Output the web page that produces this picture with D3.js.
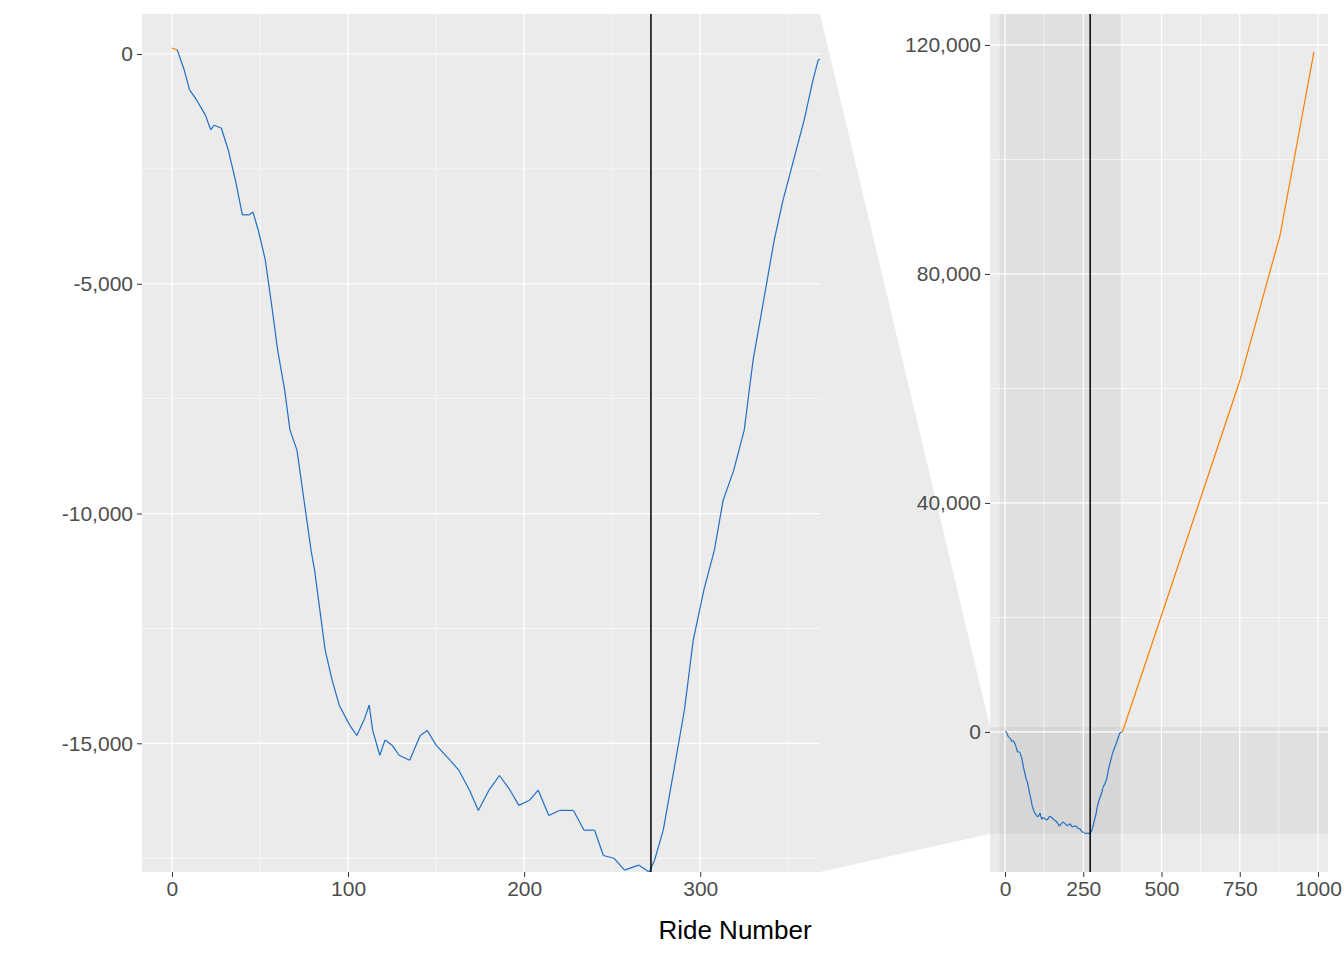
<!DOCTYPE html>
<html><head><meta charset="utf-8">
<script src="https://cdn.jsdelivr.net/npm/d3@7"></script>
<style>body{margin:0;background:#fff}text{font-family:"Liberation Sans",Arial,sans-serif}</style>
</head><body><div id="chart"></div>
<script>
// cumulative balance by ride
var rides = [0,3,6,7,10,14,19,22,24,28,32,36,40,44,46,49,53,57,60,64,67,71,75,79,81,84,87,91,95,101,105,109,112,114,118,121,125,129,135,141,145,150,158,163,169,174,180,186,192,197,203,208,214,220,228,234,240,245,251,257,265,271,274,279,285,291,296,302,308,313,319,325,330,336,342,347,353,359,364,367,375,495,623,751,879,987];
var balance = [130,90,-240,-350,-780,-1000,-1330,-1650,-1550,-1610,-2090,-2740,-3500,-3500,-3440,-3830,-4480,-5570,-6440,-7310,-8180,-8620,-9710,-10800,-11230,-12100,-12970,-13630,-14170,-14610,-14830,-14500,-14170,-14720,-15260,-14930,-15040,-15260,-15370,-14830,-14720,-15040,-15370,-15590,-16020,-16460,-16020,-15700,-16020,-16350,-16240,-16020,-16570,-16460,-16460,-16890,-16890,-17440,-17500,-17760,-17650,-17800,-17550,-16890,-15590,-14280,-12760,-11670,-10800,-9710,-9060,-8180,-6660,-5360,-4050,-3180,-2310,-1440,-570,-130,0,19560,40520,61480,86800,118800];
var breakEven = 272;
var leftYTicks = [0,-5000,-10000,-15000];
var leftXTicks = [0,100,200,300];
var rightYTicks = [0,40000,80000,120000];
var rightXTicks = [0,250,500,750,1000];

var data = rides.map(function(r,i){return {ride:r, value:balance[i]};});
var fmt = function(v){ return d3.format(",")(v).replace("\u2212","-"); };

var svg = d3.select("#chart").append("svg").attr("width",1344).attr("height",960);

var zx = d3.scaleLinear().domain([-17,368]).range([142,820]);
var zy = d3.scaleLinear().domain([870,-17800]).range([14,872]);
var fx = d3.scaleLinear().domain([-48,1032]).range([990,1328]);
var fy = d3.scaleLinear().domain([125400,-24460]).range([14,872]);

// zoom connector
svg.append("polygon")
    .attr("points",[[820,14],[820,872],[990,fy(-17800)],[990,fy(870)]].join(" "))
    .attr("fill","#ebebeb");

function panel(x, y, xTicks, yTicks, minorX, minorY, zoomed){
    var g = svg.append("g");
    var x0 = x.range()[0], x1 = x.range()[1], y0 = y.range()[0], y1 = y.range()[1];
    g.append("rect").attr("x",x0).attr("y",y0).attr("width",x1-x0).attr("height",y1-y0).attr("fill","#ebebeb");
    if (zoomed) {
        g.append("rect").attr("x",fx(-17)).attr("y",y0).attr("width",fx(368)-fx(-17)).attr("height",y1-y0)
            .attr("fill","#7f7f7f").attr("opacity",0.1);
        g.append("rect").attr("x",x0).attr("y",fy(870)).attr("width",x1-x0).attr("height",fy(-17800)-fy(870))
            .attr("fill","#7f7f7f").attr("opacity",0.1);
    }
    minorX.forEach(function(t){g.append("line").attr("x1",x(t)).attr("x2",x(t)).attr("y1",y0).attr("y2",y1).attr("stroke","#fff").attr("stroke-width",0.6);});
    minorY.forEach(function(t){g.append("line").attr("y1",y(t)).attr("y2",y(t)).attr("x1",x0).attr("x2",x1).attr("stroke","#fff").attr("stroke-width",0.6);});
    xTicks.forEach(function(t){g.append("line").attr("x1",x(t)).attr("x2",x(t)).attr("y1",y0).attr("y2",y1).attr("stroke","#fff").attr("stroke-width",1.2);});
    yTicks.forEach(function(t){g.append("line").attr("y1",y(t)).attr("y2",y(t)).attr("x1",x0).attr("x2",x1).attr("stroke","#fff").attr("stroke-width",1.2);});

    var xa = g.append("g").attr("transform","translate(0,"+y1+")")
        .call(d3.axisBottom(x).tickValues(xTicks).tickSize(5).tickPadding(4).tickFormat(d3.format("d")));
    var ya = g.append("g").attr("transform","translate("+x0+",0)")
        .call(d3.axisLeft(y).tickValues(yTicks).tickSize(5).tickPadding(4).tickFormat(fmt));
    [xa,ya].forEach(function(a){
        a.select(".domain").remove();
        a.selectAll("line").attr("stroke","#333");
        a.selectAll("text").attr("fill","#4d4d4d").style("font-size","21px");
    });

    var clipId = "c"+Math.round(x0);
    svg.append("clipPath").attr("id",clipId).append("rect").attr("x",x0).attr("y",y0).attr("width",x1-x0).attr("height",y1-y0);
    var lg = g.append("g").attr("clip-path","url(#"+clipId+")");
    // segments coloured by sign
    var line = d3.line().x(function(d){return x(d.ride);}).y(function(d){return y(d.value);});
    for (var i=1;i<data.length;i++){
        var a = data[i-1], b = data[i];
        lg.append("path").datum([a,b]).attr("d",line).attr("fill","none")
          .attr("stroke", (a.value+b.value)/2 >= 0 ? "#ff7f00" : "#1f6fc5").attr("stroke-width",1.2);
    }
    g.append("line").attr("x1",x(breakEven)).attr("x2",x(breakEven)).attr("y1",y0).attr("y2",y1).attr("stroke","#000").attr("stroke-width",1.5);
}

panel(zx, zy, leftXTicks, leftYTicks, [50,150,250,350], [-2500,-7500,-12500,-17500], false);
panel(fx, fy, rightXTicks, rightYTicks, [125,375,625,875], [20000,60000,100000], true);

svg.append("text").attr("x",735).attr("y",939).attr("text-anchor","middle")
    .style("font-size","26px").attr("fill","#000").text("Ride Number");
</script></body></html>
